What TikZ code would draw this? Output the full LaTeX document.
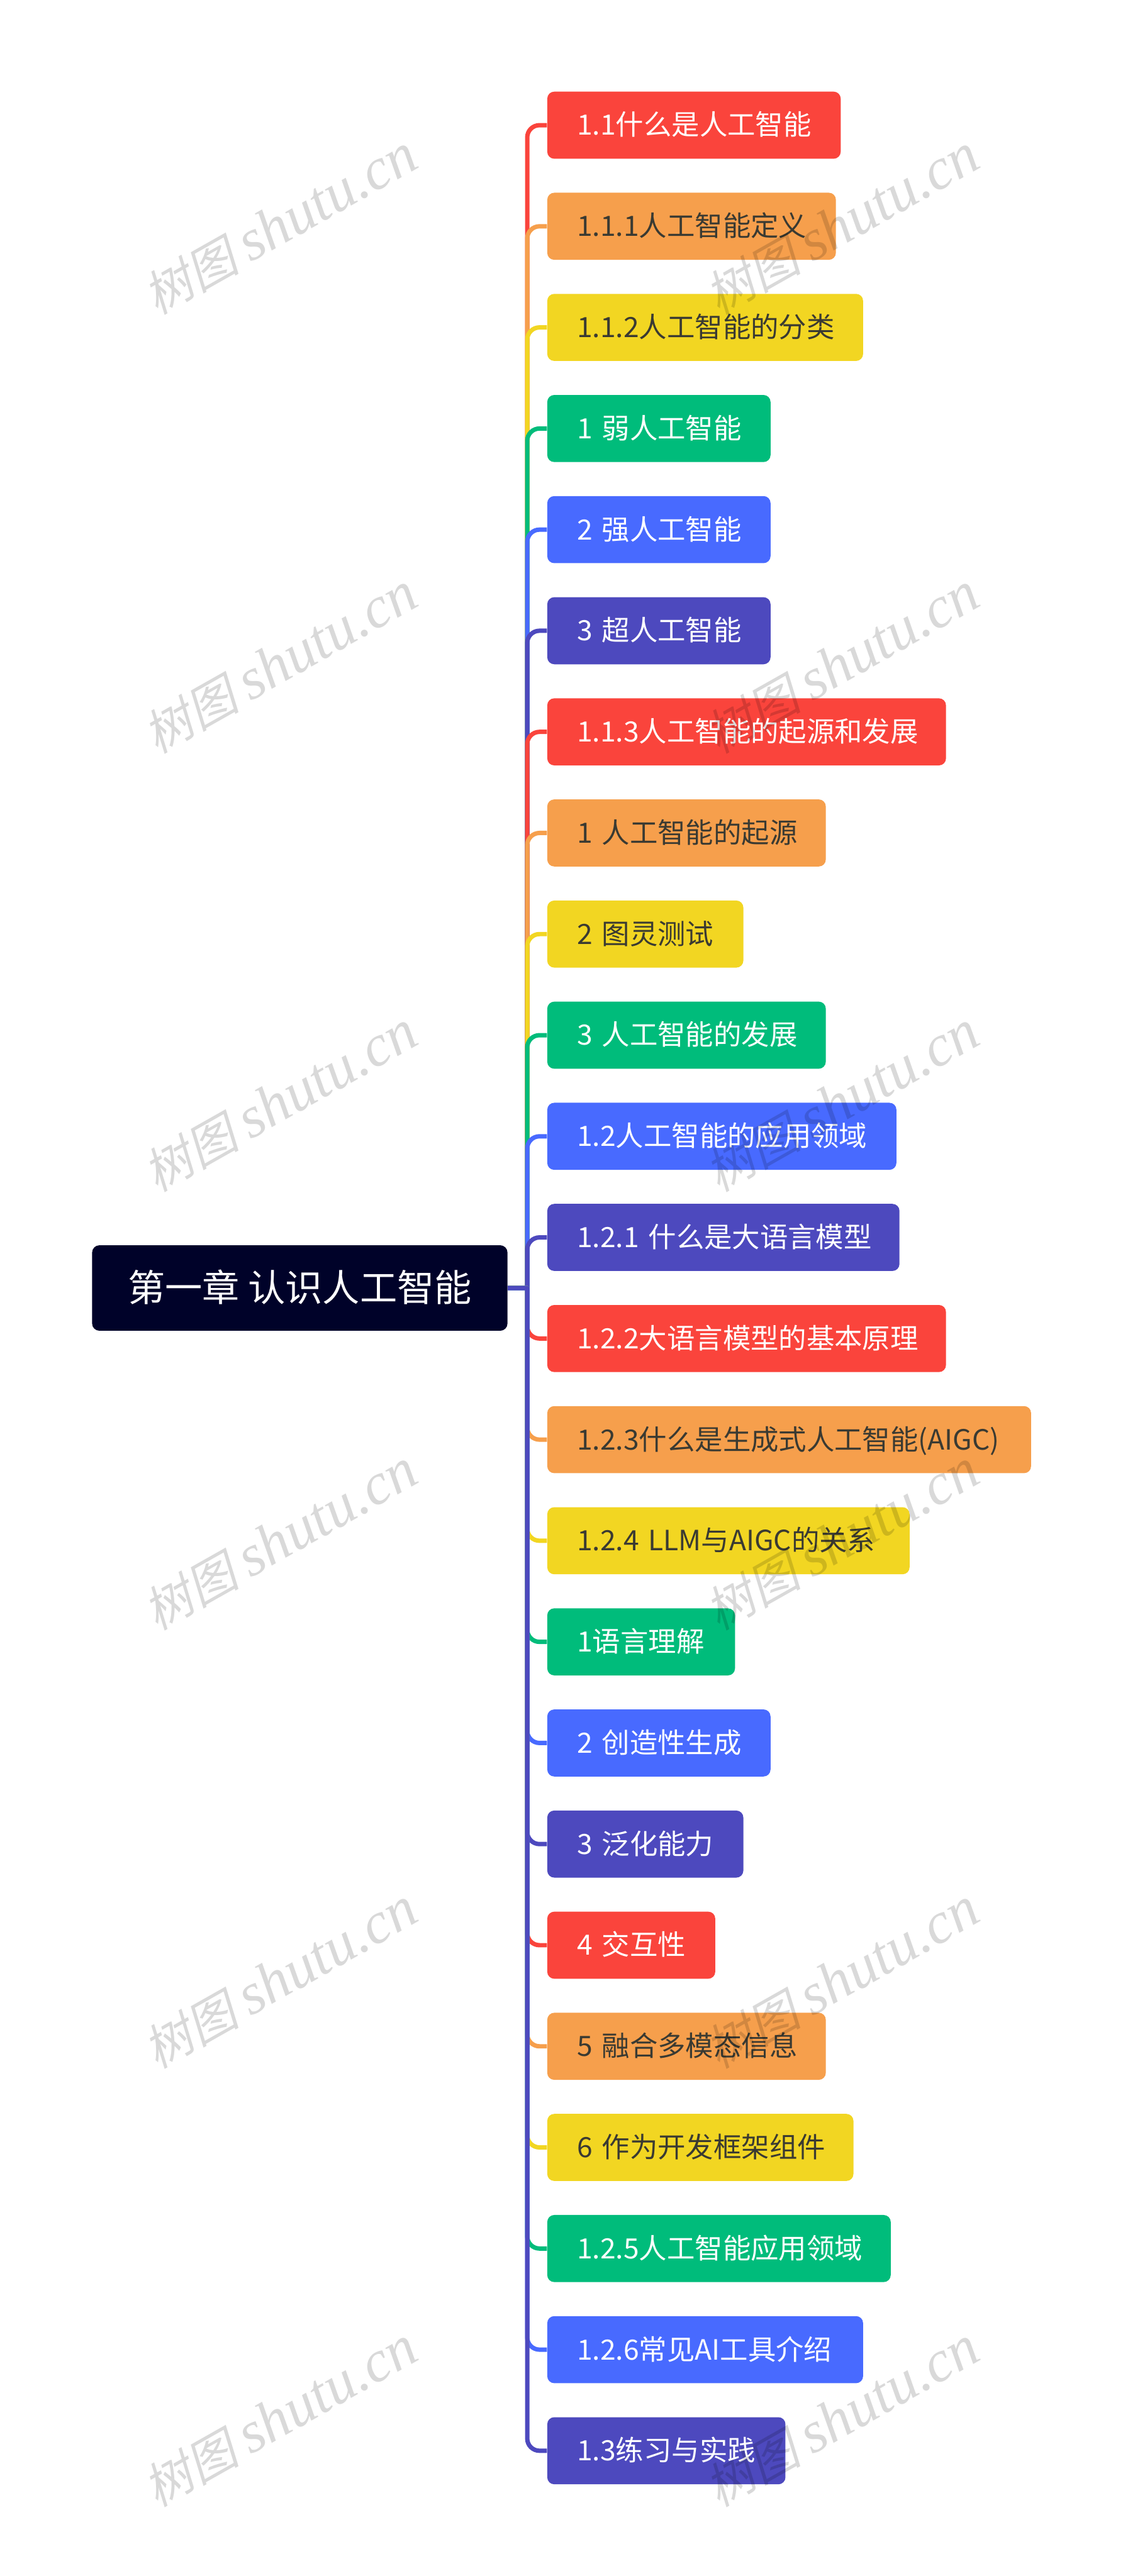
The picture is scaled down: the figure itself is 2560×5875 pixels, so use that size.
\documentclass[tikz,border=0pt]{standalone}
\usepackage{fontspec}
\setmainfont{Noto Sans CJK SC}
\newfontfamily\wmcjk[FakeSlant=0.22]{Noto Sans CJK SC}
\newfontfamily\wmlat{Liberation Serif}[ItalicFont=* Italic]
\definecolor{cred}{HTML}{FA443C}
\definecolor{corange}{HTML}{F69F4C}
\definecolor{cyellow}{HTML}{F2D622}
\definecolor{cgreen}{HTML}{00BC7B}
\definecolor{cblue}{HTML}{486AFF}
\definecolor{cpurple}{HTML}{4D49BE}
\definecolor{croot}{HTML}{000229}
\definecolor{cdark}{HTML}{3A3A32}
\tikzset{
  x=0.3pt,y=-0.3pt,
  topicbox/.style={draw=none,rounded corners=4.8pt,anchor=west,minimum height=45.9pt,inner ysep=0pt,inner xsep=20.4pt,align=left,font=\fontsize{19.1pt}{23pt}\selectfont,text height=16.8pt,text depth=3.1pt},
  rootbox/.style={fill=croot,text=white,rounded corners=5pt,anchor=center,minimum width=284.1pt,minimum height=58.5pt,inner sep=0pt,font=\fontsize{25.5pt}{30pt}\selectfont,text height=22.4pt,text depth=4pt},
  conn/.style={line width=3pt,line join=round},
  wmark/.style={rotate=29.5,text=black,opacity=.15,inner sep=0pt}
}
\begin{document}
\begin{tikzpicture}
\path[use as bounding box,fill=white] (0,0) rectangle (2560,5875);
\node[rootbox] (root) at (683.5,2937.5) {第一章 认识人工智能};
\coordinate (trunk) at (1202,2937.5);
\foreach \i/\r/\c/\t/\s in {
 0/1916/cred/white/{1.1什么是人工智能},
 1/1905/corange/cdark/{1.1.1人工智能定义},
 2/1967/cyellow/cdark/{1.1.2人工智能的分类},
 3/1756/cgreen/white/{1 弱人工智能},
 4/1756/cblue/white/{2 强人工智能},
 5/1756/cpurple/white/{3 超人工智能},
 6/2156/cred/white/{1.1.3人工智能的起源和发展},
 7/1882/corange/cdark/{1 人工智能的起源},
 8/1694/cyellow/cdark/{2 图灵测试},
 9/1882/cgreen/white/{3 人工智能的发展},
 10/2043/cblue/white/{1.2人工智能的应用领域},
 11/2050/cpurple/white/{1.2.1 什么是大语言模型},
 12/2156/cred/white/{1.2.2大语言模型的基本原理},
 13/2350/corange/cdark/{1.2.3什么是生成式人工智能(AIGC)},
 14/2073/cyellow/cdark/{1.2.4 LLM与AIGC的关系},
 15/1675/cgreen/white/{1语言理解},
 16/1756/cblue/white/{2 创造性生成},
 17/1694/cpurple/white/{3 泛化能力},
 18/1630/cred/white/{4 交互性},
 19/1882/corange/cdark/{5 融合多模态信息},
 20/1945/cyellow/cdark/{6 作为开发框架组件},
 21/2030/cgreen/white/{1.2.5人工智能应用领域},
 22/1967/cblue/white/{1.2.6常见AI工具介绍},
 23/1790/cpurple/white/{1.3练习与实践}}
{
  \pgfmathsetmacro{\yy}{285.5+230.6*\i}
  \pgfmathsetmacro{\ww}{(\r-1247)*0.3-40.8}
  \node[topicbox,fill=\c,text=\t,text width=\ww pt] (n\i) at (1247,\yy) {\mbox{\s}};
  \draw[conn,draw=\c] (root.east) -- (trunk) [rounded corners=8.4pt] -- (trunk |- n\i.west) -- (n\i.west);
}
\foreach \wx [count=\j] in {639,1920}
  \foreach \wy [count=\k] in {513,1513,2513,3513,4513,5513}
  {
    \node[wmark] (w\j\k) at (\wx,\wy) {\fontsize{33pt}{38pt}\wmcjk 树图 \fontsize{40pt}{44pt}\wmlat\itshape shutu.cn};
  }
\end{tikzpicture}
\end{document}
